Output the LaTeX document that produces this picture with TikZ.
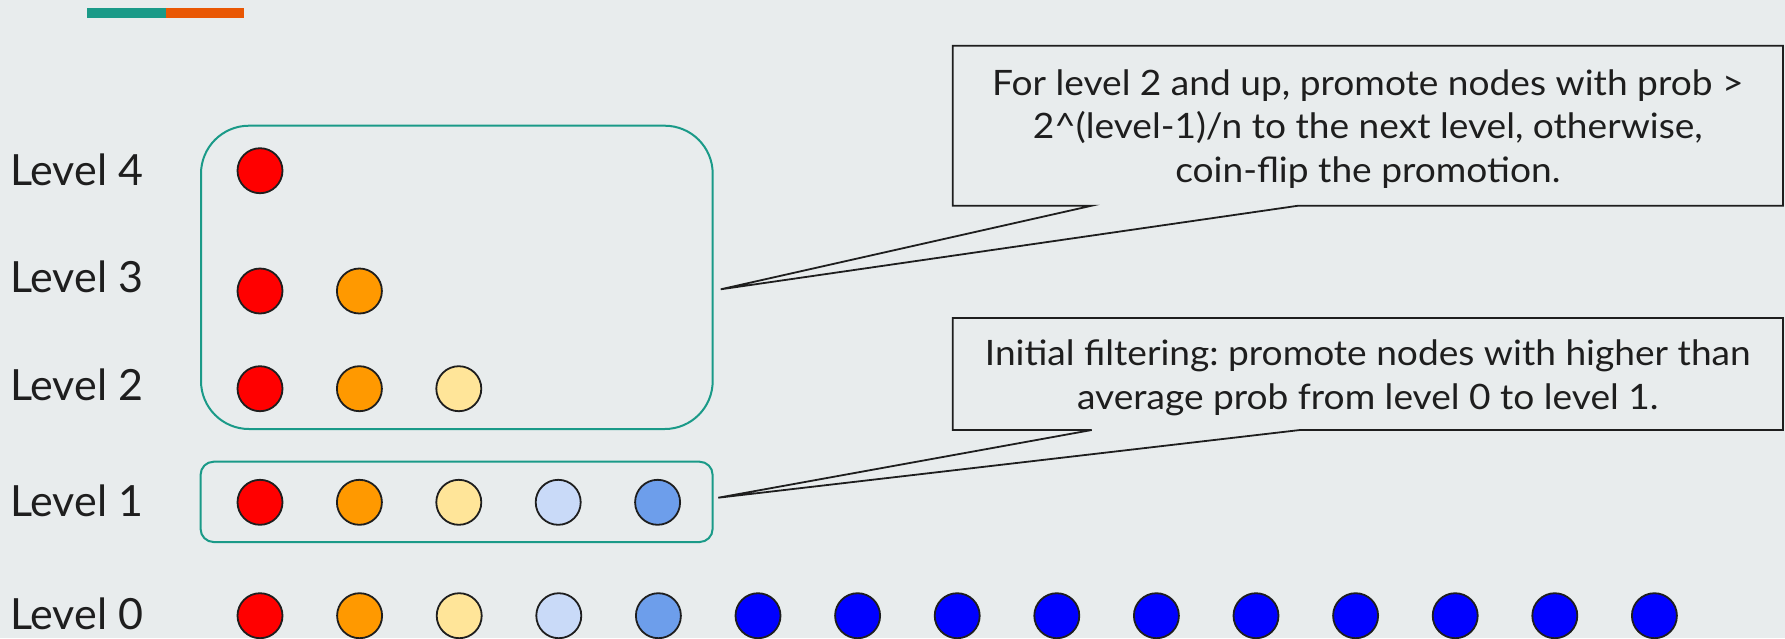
\documentclass[tikz,border=0pt]{standalone}
\usepackage{fontspec}
\setmainfont{Lato}
\newfontfamily\notefont{Lato}[FakeStretch=1.06]
\frenchspacing
\definecolor{bg}{HTML}{E8ECED}
\definecolor{ink}{HTML}{1E1E1E}
\definecolor{teal}{HTML}{1A9A88}
\definecolor{accentorange}{HTML}{E95703}
\definecolor{cRed}{HTML}{FF0000}
\definecolor{cOrange}{HTML}{FF9900}
\definecolor{cYellow}{HTML}{FFE599}
\definecolor{cPale}{HTML}{C9DAF8}
\definecolor{cMid}{HTML}{6D9EEB}
\definecolor{cBlue}{HTML}{0000FF}
\begin{document}
\begin{tikzpicture}[x=1pt,y=-1pt,
  dot/.style={circle, draw=ink, line width=1.8pt, minimum size=45pt, inner sep=0pt},
  lvl/.style={anchor=base west, inner sep=0pt, text=ink, font=\fontsize{43}{50}\selectfont},
  grp/.style={draw=teal, line width=2pt, rectangle, inner sep=0pt},
  note/.style={align=center, inner sep=0pt, text=ink, font=\notefont\fontsize{35}{43.5}\selectfont},
  outline/.style={draw=ink, line width=1.8pt, fill=bg, line join=miter}]
% canvas
\fill[bg] (0,0) rectangle (1785,638);
\useasboundingbox (0,0) rectangle (1785,638);

% title accent bar
\fill[teal] (87,8) rectangle (166,18);
\fill[accentorange] (166,8) rectangle (244,18);

% group frames
\node[grp, minimum width=511.7pt, minimum height=303.3pt, rounded corners=48pt] (upper) at (456.85,277.35) {};
\node[grp, minimum width=512pt, minimum height=80.3pt, rounded corners=13pt] (first) at (456.6,501.85) {};

% level labels
\node[lvl] (lab4) at (10,185) {Level 4};
\node[lvl] (lab3) at (10,292) {Level 3};
\node[lvl] (lab2) at (10,400) {Level 2};
\node[lvl] (lab1) at (10,516) {Level 1};
\node[lvl] (lab0) at (10,629.3) {Level 0};

% level 4
\node[dot, fill=cRed] (n4a) at (260,170.7) {};
% level 3
\node[dot, fill=cRed] (n3a) at (260,291) {};
\node[dot, fill=cOrange] (n3b) at (359.4,291) {};
% level 2
\node[dot, fill=cRed] (n2a) at (260,388.7) {};
\node[dot, fill=cOrange] (n2b) at (359.4,388.7) {};
\node[dot, fill=cYellow] (n2c) at (458.8,388.7) {};
% level 1
\node[dot, fill=cRed] (n1a) at (260,502.3) {};
\node[dot, fill=cOrange] (n1b) at (359.4,502.3) {};
\node[dot, fill=cYellow] (n1c) at (458.8,502.3) {};
\node[dot, fill=cPale] (n1d) at (558.2,502.3) {};
\node[dot, fill=cMid] (n1e) at (657.6,502.3) {};
% level 0
\foreach \i/\c in {0/cRed,1/cOrange,2/cYellow,3/cPale,4/cMid,5/cBlue,6/cBlue,7/cBlue,8/cBlue,9/cBlue,10/cBlue,11/cBlue,12/cBlue,13/cBlue,14/cBlue}
  \node[dot, fill=\c] (n0-\i) at (260+99.6*\i,615.7) {};

% callout for the upper levels
\coordinate (tipA) at (720.7,289.3);
\coordinate (baseAl) at (1091.7,205.7);
\coordinate (baseAr) at (1298.3,205.7);
\draw[outline] (952.7,45.7) -- (1783,45.7) -- (1783,205.7) -- (baseAr) -- (tipA) -- (baseAl) -- (952.7,205.7) -- cycle;
\node[note] (noteA) at (1367.8,128.7) {For level 2 and up, promote nodes with prob >\\2\^{}(level-1)/n to the next level, otherwise,\\coin-flip the promotion.};

% callout for level 1
\coordinate (tipB) at (718.3,497.7);
\coordinate (baseBl) at (1091.7,430);
\coordinate (baseBr) at (1300,430);
\draw[outline] (952.7,318) -- (1783,318) -- (1783,430) -- (baseBr) -- (tipB) -- (baseBl) -- (952.7,430) -- cycle;
\node[note] (noteB) at (1367.8,377.7) {Initial filtering: promote nodes with higher than\\average prob from level 0 to level 1.};
\end{tikzpicture}
\end{document}
